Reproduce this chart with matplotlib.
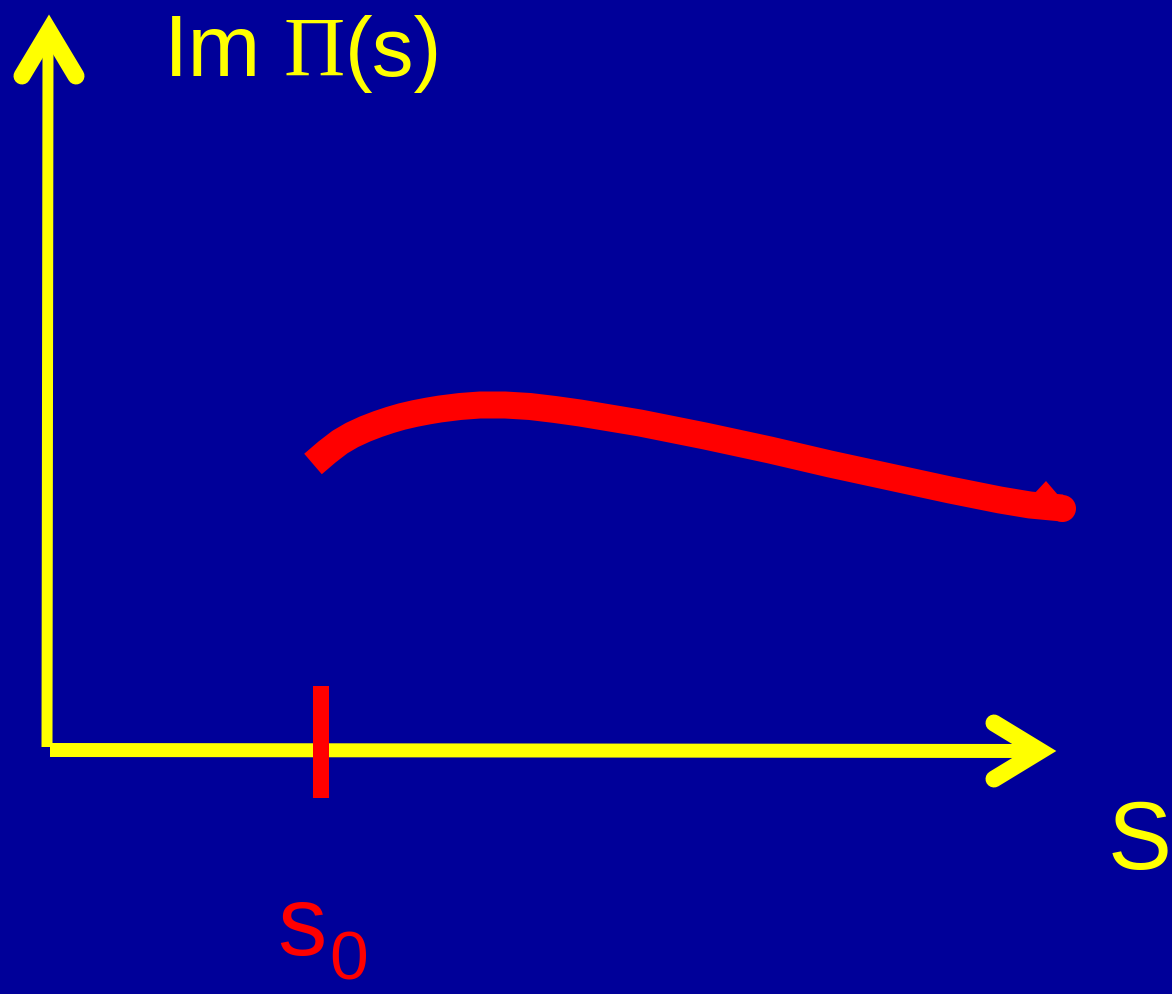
"""Schematic: Im Pi(s) above threshold s0."""
import matplotlib
matplotlib.use("Agg")
import matplotlib.pyplot as plt

W, H = 1172, 995
BG = "#000099"
YEL = "#ffff00"
RED = "#ff0000"


def pt(px):
    # pixel width -> points at dpi 100
    return px * 0.72


# ---------------------------------------------------------------- data
# red curve in pixel units (y downwards)
curve_x = [313, 327, 340, 352, 365, 378, 390, 402, 415, 428, 440, 460,
           480, 505, 530, 555, 580, 610, 640, 670, 705, 770, 830, 890,
           950, 1000, 1030, 1062]
curve_y = [465, 453, 443, 436, 430, 425, 421, 417.5, 414.5, 412, 410,
           407.5, 406, 406, 407.5, 410.5, 414, 419, 424, 430, 437, 451,
           465, 478, 491, 501, 506, 509]
# little kink at the end of the curve
kink_x = [1033, 1046, 1058]
kink_y = [496, 482, 496]

# threshold marker s0
s0_x = 321
s0_y = [687, 799]

# axes (yellow)
yaxis_x = [47, 48]
yaxis_y = [748, 45]
xaxis_x = [50, 1040]
xaxis_y = [751, 752]
yhead_x = [22, 49, 76]
yhead_y = [77, 32, 77]
xhead_x = [994, 1040, 994]
xhead_y = [724, 752, 780]

# ---------------------------------------------------------------- figure
fig = plt.figure(figsize=(W / 100, H / 100), dpi=100, facecolor=BG)
ax = fig.add_axes([0, 0, 1, 1])
ax.set_facecolor(BG)
ax.set_xlim(0, W)
ax.set_ylim(H, 0)
ax.axis("off")

ax.plot(yaxis_x, yaxis_y, color=YEL, lw=pt(11), solid_capstyle="butt")
ax.plot(xaxis_x, xaxis_y, color=YEL, lw=pt(14), solid_capstyle="butt")
for hx, hy in ((yhead_x, yhead_y), (xhead_x, xhead_y)):
    ax.plot(hx, hy, color=YEL, lw=pt(17), solid_capstyle="round",
            solid_joinstyle="miter")

ax.plot([s0_x, s0_x], s0_y, color=RED, lw=pt(16), solid_capstyle="butt")

ax.plot(curve_x, curve_y, color=RED, lw=pt(27), solid_capstyle="butt",
        solid_joinstyle="round")
ax.plot(curve_x[-1:], curve_y[-1:], "o", color=RED, ms=pt(27), mew=0)
ax.fill(kink_x, kink_y, color=RED, lw=0)

# labels
sans = "Liberation Sans"
ax.text(164, 76, "Im", color=YEL, fontsize=63, family=sans,
        ha="left", va="baseline")
ax.text(283, 76, "\u03a0", color=YEL, fontsize=61, family="Liberation Serif",
        ha="left", va="baseline")
ax.text(345, 76, "(s)", color=YEL, fontsize=60, family=sans,
        ha="left", va="baseline")
ax.text(1108, 869, "S", color=YEL, fontsize=69, family=sans,
        ha="left", va="baseline")
ax.text(277, 955, "s", color=RED, fontsize=71, family=sans,
        ha="left", va="baseline")
ax.text(329, 980, "0", color=RED, fontsize=50, family=sans,
        ha="left", va="baseline")

fig.savefig("out.png", dpi=100, facecolor=BG)
